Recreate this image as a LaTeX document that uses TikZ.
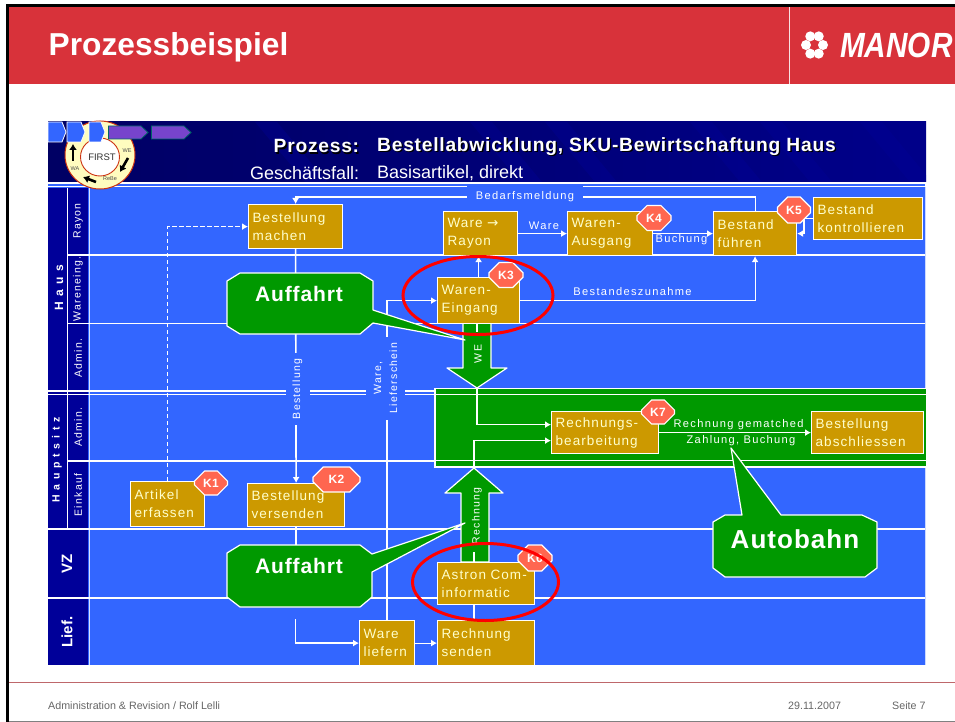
\documentclass[tikz,border=0pt]{standalone}
\usepackage{fontspec}
\setmainfont{Liberation Sans}
\newfontfamily\boxf{Liberation Sans}[LetterSpace=8]
\newfontfamily\labf{Liberation Sans}[LetterSpace=12]
\newfontfamily\widef{Liberation Sans}[LetterSpace=45]
\newfontfamily\semif{Liberation Sans}[LetterSpace=4]
\newfontfamily\arrf{DejaVu Sans}
\usetikzlibrary{arrows.meta,shapes.misc,shapes.geometric,calc}
\definecolor{panel}{HTML}{3366FF}
\definecolor{navy}{HTML}{000099}
\definecolor{grn}{HTML}{009900}
\definecolor{gold}{HTML}{CC9900}
\definecolor{cream}{HTML}{FFFFCC}
\definecolor{badge}{HTML}{FF6650}
\definecolor{banner}{HTML}{D8323A}
\definecolor{ringred}{HTML}{CC3311}
\definecolor{purple1}{HTML}{7744CC}
\definecolor{teal1}{HTML}{006666}
\newcommand{\shtext}[1]{\makebox[0pt][l]{\kern1.3pt\raisebox{-1.3pt}{\color{black}#1}}#1}
\tikzset{
  x=1pt,y=-1pt,
  bx/.style={draw=white,line width=1.2pt,fill=gold,text=cream,align=left,anchor=north west,inner xsep=4pt,inner ysep=0pt,font=\boxf\fontsize{13.5}{18}\selectfont},
  lane/.style={draw=white,line width=1.1pt},
  conn/.style={draw=white,line width=1.1pt},
  arr/.style={conn,-{Latex[length=6pt,width=7pt]}},
  thick conn/.style={draw=white,line width=1.6pt},
  lbl/.style={text=white,inner sep=0pt,font=\labf\fontsize{11.1}{13}\selectfont},
  flbl/.style={lbl,fill=panel,align=center},
  vlab/.style={text=white,rotate=90,inner sep=0pt,font=\fontsize{10.5}{13}\selectfont\labf},
  blab/.style={text=white,rotate=90,inner sep=0pt,font=\widef\bfseries\fontsize{10.5}{13}\selectfont},
  vbig/.style={text=white,rotate=90,inner sep=0pt,font=\bfseries\fontsize{15}{17}\selectfont},
  kb/.style={chamfered rectangle,chamfered rectangle xsep=6pt,chamfered rectangle ysep=6pt,draw=white,line width=1.2pt,fill=badge,text=white,inner sep=0pt,font=\semif\bfseries\fontsize{12}{14}\selectfont},
  callout/.style={draw=white,line width=1.2pt,fill=grn,line join=round},
  big/.style={text=white,inner sep=0pt,font=\semif\bfseries\fontsize{21}{24}\selectfont},
  redring/.style={ellipse,draw=red,line width=3pt,inner sep=0pt,fill=none},
  chev/.style={fill=panel,draw=white,line width=.8pt},
  purp/.style={fill=purple1,draw=teal1,line width=.8pt},
  foot/.style={text=black!60,inner sep=0pt,anchor=west,font=\fontsize{10.7}{12}\selectfont},
}
\begin{document}
\begin{tikzpicture}
\useasboundingbox (0,0) rectangle (955,722);
\fill[white] (0,0) rectangle (955,722);
% slide frame
\fill[banner] (8,7) rectangle (955,84);
\fill[black] (6,4) rectangle (955,7);
\fill[black] (6,4) rectangle (9,722);
\fill[black!50] (9,720.5) rectangle (955,722);
\fill[white!85!banner] (788.5,7) rectangle (790,84);
\node[text=white,inner sep=0pt,anchor=west,font=\bfseries\fontsize{31.7}{34}\selectfont] (title) at (48.5,47) {Prozessbeispiel};
% logo
\foreach \a in {0,60,120,180,240,300}{\fill[white] ({814.5+8.5*cos(\a)},{45+10*sin(\a)}) circle (5);}
\node[text=white,inner sep=0pt,anchor=west,xscale=.85,font=\bfseries\itshape\fontsize{35}{36}\selectfont] (logo) at (840,45) {MANOR};
\draw[banner!75!black!70!white,line width=1pt] (9,682) -- (955,682);
% panel
\fill[panel] (48,182) rectangle (925,665);
\draw[white!75!panel,line width=.8pt] (925,187) -- (925,665);
% title band
\shade[left color=black!35!navy,right color=navy!90!black] (48,122) rectangle (926,182);
\begin{scope}
\clip (48,122) rectangle (926,182);
\foreach \xx in {255,470,545,690,760,860}{\fill[navy,opacity=.35] (\xx,122) -- (\xx+22,122) -- (\xx+72,182) -- (\xx+50,182) -- cycle;}
\end{scope}
\draw[white,line width=1.3pt] (48,183) -- (926,183);
\draw[white,line width=1.3pt] (48,186.5) -- (926,186.5);
% lane headers
\fill[navy] (48,188) rectangle (88,664.5);
\draw[white,line width=1pt] (67,188) -- (67,529);
\draw[white!80!panel,line width=1.4pt] (89.2,187) -- (89.2,665);
\node[blab,font=\widef\bfseries\fontsize{12}{14}\selectfont] (nhaus) at (59,288) {Haus};
\node[blab] (nhs) at (57,460) {Hauptsitz};
\node[vbig] (nvz) at (67,564) {VZ};
\node[vbig] (nlief) at (67,632) {Lief.};
\node[vlab] (n1) at (78,221) {Rayon};
\node[vlab] (n2) at (78,289) {Wareneing.};
\node[vlab] (n3) at (78,358) {Admin.};
\node[vlab] (n4) at (78,427) {Admin.};
\node[vlab] (n5) at (78,495) {Einkauf};
% lane lines
\draw[lane] (67,255) -- (925,255);
\draw[lane] (67,323.5) -- (925,323.5);
\draw[lane] (67,461) -- (925,461);
\draw[lane] (48,529) -- (925,529);
\draw[lane] (48,598) -- (925,598);
\draw[lane] (48,391) -- (435,391);
\draw[lane] (48,394.5) -- (435,394.5);
% autobahn band
\fill[grn] (435,388.5) rectangle (926,467);
\draw[white,line width=1.3pt] (926,388.5) -- (435,388.5) -- (435,467) -- (926,467);
\draw[white,line width=1pt] (435,394) -- (926,394);
\draw[white,line width=1.2pt] (435,460.8) -- (926,460.8);
% big arrows
\draw[callout] (463,323) -- (491,323) -- (491,368) -- (507,368) -- (477,388) -- (447,368) -- (463,368) -- cycle;
\node[text=white,rotate=90,inner sep=0pt,font=\labf\fontsize{10.5}{13}\selectfont] (lwe) at (478,354) {WE};
\draw[callout] (461,562) -- (461,493) -- (445,493) -- (474,468) -- (503,493) -- (489,493) -- (489,562) -- cycle;
\node[text=white,rotate=90,inner sep=0pt,font=\fontsize{10.5}{13}\selectfont\labf] (lre) at (477,516) {Rechnung};
% boxes
\node[bx,text width=86pt,minimum height=44pt] (bm) at (248,204) {Bestellung\\machen};
\node[bx,text width=66pt,minimum height=44pt] (wr) at (443,211) {Ware {\arrf →}\\Rayon};
\node[bx,text width=77pt,minimum height=44pt] (wa) at (567,211) {Waren-\\Ausgang};
\node[bx,text width=75pt,minimum height=44pt] (bf) at (713,211) {Bestand\\führen};
\node[bx,text width=101pt,minimum height=42pt] (bk) at (813,197) {Bestand\\kontrollieren};
\node[bx,text width=74pt,minimum height=46pt] (we) at (437,277) {Waren-\\Eingang};
\node[bx,text width=99pt,minimum height=42pt] (rb) at (551,411) {Rechnungs-\\bearbeitung};
\node[bx,text width=104pt,minimum height=42pt] (ba) at (811,411) {Bestellung\\abschliessen};
\node[bx,text width=89pt,minimum height=42pt] (ac) at (437,562) {Astron Com-\\informatic};
\node[bx,text width=89pt,minimum height=45pt] (rs) at (437,620) {Rechnung\\senden};
\node[bx,text width=47pt,minimum height=45pt] (wl) at (359,620) {Ware\\liefern};
\node[bx,text width=66pt,minimum height=45pt] (ae) at (130,481) {Artikel\\erfassen};
\node[bx,text width=89pt,minimum height=43pt] (bv) at (247,483) {Bestellung\\versenden};
% named free ends
\coordinate (wetip) at (477,388);
\coordinate (retip) at (474,468);
\coordinate (lf) at (295.5,619);
\coordinate (westub) at (477,332);
\coordinate (restub) at (474,552);
\coordinate (weout) at (477,323);
% connectors
\draw[arr,dash pattern=on 4.5pt off 2.5pt,line width=1.7pt] (ae.north) |- (bm.west);
\draw[arr] (bf.north) -- ++(0,-14) -| (bm.north);
\draw[arr,line width=1.6pt] (bm.south) -- (bv.north);
\draw[arr,line width=1.6pt] (wl.north) |- (we.west);
\draw[thick conn] (bv.south) -- ++(0,25);
\draw[arr,line width=1.5pt] (lf) |- (wl.west);
\draw[arr] (wr.east) -- (wa.west);
\draw[arr] (wa.east) -- (bf.west);
\draw[arr] (bk.west) -- ++(-9,0) |- (bf.east);
\draw[arr] (we.north) -- (we.north |- wr.south);
\draw[arr] (we.east) -| (bf.south);
\draw[conn,line width=1.5pt] (weout) -- (westub);
\draw[arr] (wetip) |- ($(rb.west)+(0,-8)$);
\draw[arr,line width=1.5pt] (retip) |- ($(rb.west)+(0,8)$);
\draw[arr] (rb.east) -- (ba.west);
\draw[conn,line width=1.5pt] (ac.south -| restub) -- (rs.north -| restub);
\draw[conn,line width=1.5pt] (restub) -- (ac.north -| restub);
\draw[arr] (rs.west -| wl.east) -- (rs.west);
% connector labels
\node[flbl,minimum width=116pt,minimum height=22pt] (lbed) at (525,197) {Bedarfsmeldung};
\node[flbl,rotate=90,minimum width=72pt,minimum height=24pt,font=\labf\fontsize{10.5}{13}\selectfont] (lbest) at (297.5,389) {Bestellung};
\node[flbl,rotate=90,minimum width=83pt,minimum height=39pt,font=\labf\fontsize{10.5}{16}\selectfont] (lwl) at (385.5,378) {Ware,\\Lieferschein};
\node[lbl] (lw) at (544,226) {Ware};
\node[lbl] (lbu) at (681.5,239.5) {Buchung};
\node[lbl] (lbz) at (632.5,292) {Bestandeszunahme};
\node[lbl] (lrg) at (738.5,425) {Rechnung gematched};
\node[lbl] (lzb) at (741,441) {Zahlung, Buchung};
% callouts
\draw[callout] (240,273) -- (360,273) -- (373,281) -- (373,310) -- (465,340) -- (373,323) -- (360,334) -- (240,334) -- (227,326) -- (227,281) -- cycle;
\node[big] (a1) at (299,294) {Auffahrt};
\draw[callout] (240,545) -- (360,545) -- (372,554) -- (465,523) -- (372,572) -- (372,597) -- (360,607) -- (240,607) -- (227,597) -- (227,553) -- cycle;
\node[big] (a2) at (299,566) {Auffahrt};
\draw[callout] (725,515) -- (742,515) -- (731,448) -- (781,515) -- (862,515) -- (877,522) -- (877,568) -- (865,577) -- (725,577) -- (713,568) -- (713,522) -- cycle;
\node[big,font=\semif\bfseries\fontsize{26}{28}\selectfont] (a3) at (795,539) {Autobahn};
% badges
\node[kb,minimum width=33pt,minimum height=24pt] (k1) at (211,483) {K1};
\node[kb,minimum width=47pt,minimum height=25pt] (k2) at (336.5,479.5) {K2};
\node[kb,minimum width=34pt,minimum height=25pt] (k3) at (506,275) {K3};
\node[kb,minimum width=34pt,minimum height=25pt] (k4) at (654,218) {K4};
\node[kb,minimum width=33pt,minimum height=26pt] (k5) at (794,210) {K5};
\node[kb,minimum width=34pt,minimum height=26pt] (k6) at (535,558) {K6};
\node[kb,minimum width=33pt,minimum height=24pt] (k7) at (658,412) {K7};
% red rings
\node[redring,minimum width=150pt,minimum height=78pt] (r1) at (478,295.5) {};
\node[redring,minimum width=146pt,minimum height=77pt] (r2) at (485.5,582) {};
% header title
\node[text=white,inner sep=0pt,anchor=west,font=\semif\bfseries\fontsize{19.2}{21}\selectfont] (t1) at (273.5,147) {\shtext{Prozess:}};
\node[text=white,inner sep=0pt,anchor=west,font=\semif\bfseries\fontsize{19.2}{21}\selectfont] (t2) at (377,147) {\shtext{Bestellabwicklung, SKU-Bewirtschaftung Haus}};
\node[text=white,inner sep=0pt,anchor=west,font=\fontsize{18}{20}\selectfont] (t3) at (250,173) {Geschäftsfall:};
\node[text=white,inner sep=0pt,anchor=west,font=\fontsize{18}{20}\selectfont] (t4) at (377,173) {Basisartikel, direkt};
% FIRST wheel
\draw[ringred,line width=1pt,fill=yellow!25!white] (100,155) ellipse (35 and 34);
\draw[ringred,line width=.9pt,fill=white] (100,157) ellipse (19.5 and 19);
\node[text=black!80,inner sep=0pt,font=\fontsize{9.5}{11}\selectfont] (nf) at (102,157) {FIRST};
\node[text=black!70,inner sep=0pt,font=\fontsize{5.5}{6}\selectfont] (nw1) at (127,151) {WE};
\node[text=black!70,inner sep=0pt,font=\fontsize{5.5}{6}\selectfont] (nw2) at (75,168.5) {WA};
\node[text=black!70,inner sep=0pt,font=\fontsize{5.5}{6}\selectfont] (nw3) at (110,179) {ReBe};
\coordinate (w1a) at (73,161); \coordinate (w1b) at (73,144);
\coordinate (w2a) at (128,158); \coordinate (w2b) at (120,172);
\coordinate (w3a) at (96,182); \coordinate (w3b) at (83,177);
\draw[black,line width=2.6pt,-{Latex[length=6pt,width=8pt]}] (w1a) -- (w1b);
\draw[black,line width=2.6pt,-{Latex[length=6pt,width=8pt]}] (w2a) -- (w2b);
\draw[black,line width=2.6pt,-{Latex[length=6pt,width=8pt]}] (w3a) -- (w3b);
% chevrons
\draw[chev] (48,122) -- (62,122) -- (66,132) -- (62,142) -- (48,142) -- cycle;
\draw[chev] (67,122) -- (81,122) -- (85,132) -- (81,142) -- (67,142) -- cycle;
\draw[chev] (89,122) -- (101,122) -- (105,132) -- (101,142) -- (89,142) -- cycle;
\draw[purp] (108.5,126) -- (141,126) -- (148,132.5) -- (141,139) -- (108.5,139) -- cycle;
\draw[purp] (151.5,126) -- (184,126) -- (191,132.5) -- (184,139) -- (151.5,139) -- cycle;
% footer
\node[foot] (f1) at (48,706) {Administration \& Revision / Rolf Lelli};
\node[foot] (f2) at (788,706) {29.11.2007};
\node[foot] (f3) at (892,706) {Seite 7};
\end{tikzpicture}
\end{document}
